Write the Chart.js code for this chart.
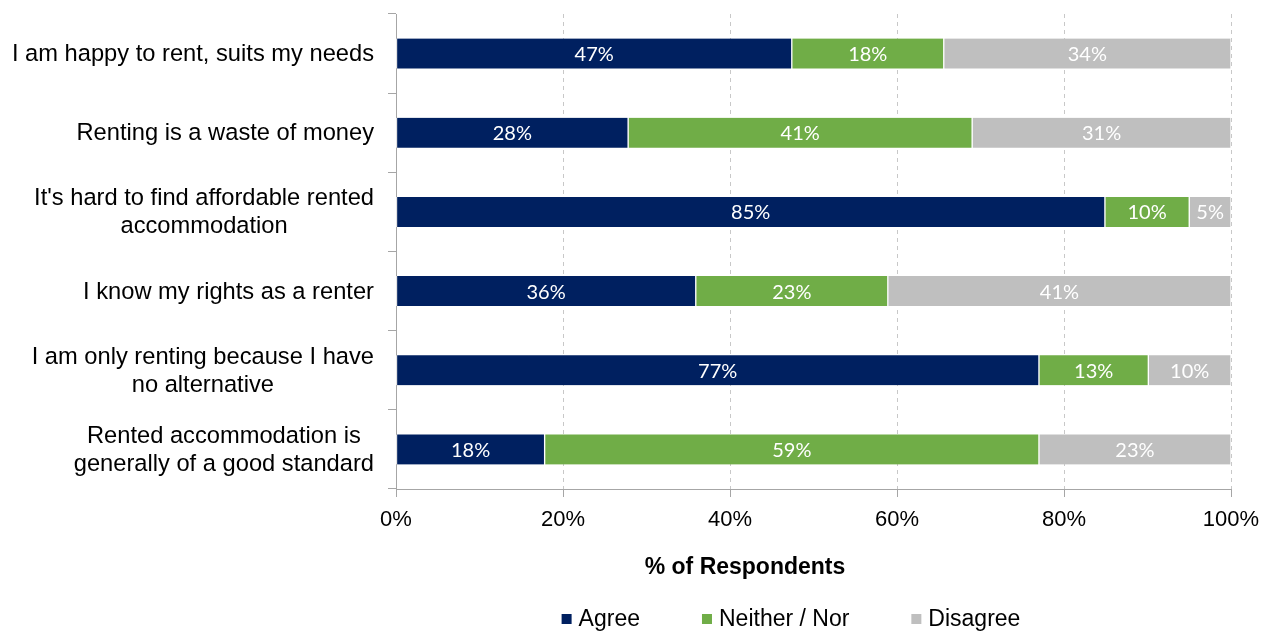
<!DOCTYPE html>
<html>
<head>
<meta charset="utf-8">
<script src="https://cdn.jsdelivr.net/npm/chart.js@4/dist/chart.umd.min.js"></script>
<style>
  body { margin: 0; background: #fff; }
  #wrap { width: 1277px; height: 631px; position: relative; }
</style>
</head>
<body>
<div id="wrap"><canvas id="chart"></canvas></div>
<script>
const categories = [
    ['I am happy to rent, suits my needs'],
    ['Renting is a waste of money'],
    ["It's hard to find affordable rented", 'accommodation'],
    ['I know my rights as a renter'],
    ['I am only renting because I have', 'no alternative'],
    ['Rented accommodation is', 'generally of a good standard']
];
const agree    = [47.4, 27.8, 84.9, 35.9, 77.0, 17.8];
const neither  = [18.2, 41.2, 10.1, 23.0, 13.1, 59.2];
const disagree = [34.4, 31.0, 5.0, 41.1, 9.9, 23.0];
const xTicks = [0, 20, 40, 60, 80, 100];

const seriesNames  = ['Agree', 'Neither / Nor', 'Disagree'];
const seriesColors = ['#002060', '#70ad47', '#bfbfbf'];

const AXIS_FONT = '"Liberation Sans", Arial, sans-serif';
const LABEL_FONT = 'Lato, "Open Sans", sans-serif';

// draws category labels, bar values, axis title and legend
const extras = {
    id: 'extras',
    afterDatasetsDraw(chart) {
        const ctx = chart.ctx;
        ctx.save();
        ctx.fillStyle = '#fff';
        ctx.font = '20px ' + LABEL_FONT;
        ctx.textAlign = 'center';
        ctx.textBaseline = 'middle';
        chart.data.datasets.forEach((ds, i) => {
            chart.getDatasetMeta(i).data.forEach((el, j) => {
                const cx = (el.x + el.base) / 2;
                ctx.fillText(Math.round(ds.data[j]) + '%', cx, el.y + 1);
            });
        });
        ctx.restore();
    },
    afterDraw(chart) {
        const ctx = chart.ctx;
        const yScale = chart.scales.y;
        const area = chart.chartArea;
        ctx.save();

        // category labels: block right aligned, lines centred within block
        ctx.fillStyle = '#000';
        ctx.font = '23.7px ' + AXIS_FONT;
        ctx.textAlign = 'center';
        ctx.textBaseline = 'middle';
        const rightEdge = area.left - 22;
        const lineH = 28;
        categories.forEach((lines, i) => {
            const cy = yScale.getPixelForValue(i);
            const w = Math.max(...lines.map(l => ctx.measureText(l).width));
            const cx = rightEdge - w / 2;
            const y0 = cy - (lines.length - 1) * lineH / 2;
            lines.forEach((l, k) => ctx.fillText(l, cx, y0 + k * lineH + 1));
        });

        // x axis title
        ctx.font = 'bold 23px ' + AXIS_FONT;
        ctx.fillText('% of Respondents', 745, 568);

        // legend
        ctx.font = '23px ' + AXIS_FONT;
        ctx.textAlign = 'left';
        const box = 10, gap = 7, itemGap = 62;
        const widths = seriesNames.map(n => box + gap + ctx.measureText(n).width);
        const total = widths.reduce((a, b) => a + b, 0) + itemGap * (seriesNames.length - 1);
        let x = 791 - total / 2;
        const ly = 620;
        seriesNames.forEach((n, i) => {
            ctx.fillStyle = seriesColors[i];
            ctx.fillRect(x, ly - box / 2 - 1, box, box);
            ctx.fillStyle = '#000';
            ctx.fillText(n, x + box + gap, ly);
            x += widths[i] + itemGap;
        });
        ctx.restore();
    }
};

const makeSet = (label, data, color) => ({
    label: label,
    data: data,
    backgroundColor: color,
    borderColor: '#fff',
    borderWidth: { left: 1, right: 1, top: 0, bottom: 0 },
    borderSkipped: false,
    barThickness: 30
});

new Chart(document.getElementById('chart'), {
    type: 'bar',
    data: {
        labels: categories.map(c => c.join(' ')),
        datasets: [
            makeSet(seriesNames[0], agree, seriesColors[0]),
            makeSet(seriesNames[1], neither, seriesColors[1]),
            makeSet(seriesNames[2], disagree, seriesColors[2])
        ]
    },
    options: {
        indexAxis: 'y',
        responsive: true,
        maintainAspectRatio: false,
        animation: false,
        layout: { padding: { left: 388, right: 46, top: 14, bottom: 0 } },
        plugins: { legend: { display: false }, tooltip: { enabled: false } },
        scales: {
            x: {
                stacked: true,
                min: 0,
                max: 100,
                afterBuildTicks: s => { s.ticks = xTicks.map(v => ({ value: v })); },
                afterFit: s => { s.height = 142; },
                ticks: {
                    callback: v => v + '%',
                    color: '#000',
                    padding: 10,
                    font: { family: AXIS_FONT, size: 22 }
                },
                grid: {
                    color: c => c.index === 0 ? 'rgba(0,0,0,0)' : '#c8c8c8',
                    tickColor: '#a6a6a6',
                    tickLength: 8,
                    tickBorderDash: []
                },
                border: { color: '#a6a6a6', dash: [4, 4] }
            },
            y: {
                stacked: true,
                ticks: { display: false },
                grid: {
                    offset: true,
                    drawOnChartArea: false,
                    tickLength: 8,
                    tickColor: '#a6a6a6',
                    color: '#a6a6a6'
                },
                border: { color: '#a6a6a6' }
            }
        }
    },
    plugins: [extras]
});
</script>
</body>
</html>
